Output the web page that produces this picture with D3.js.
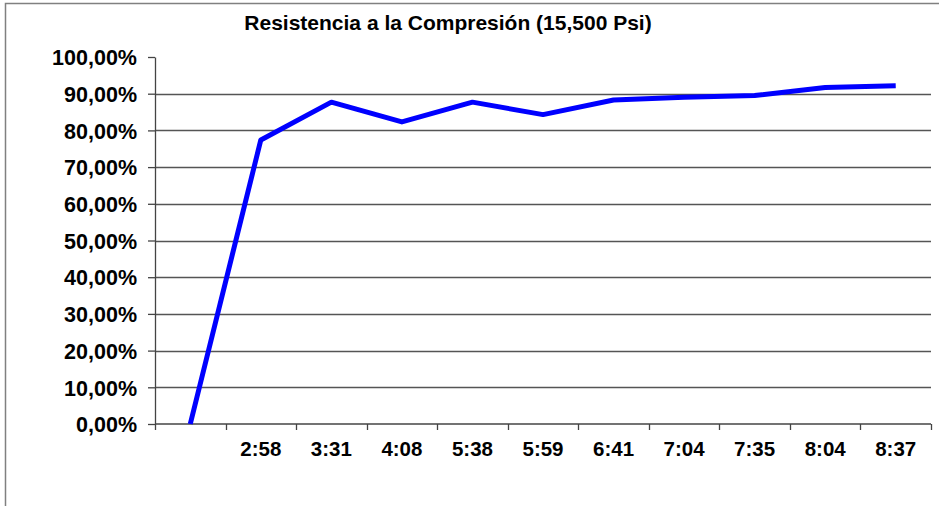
<!DOCTYPE html>
<html>
<head>
<meta charset="utf-8">
<title>Resistencia a la Compresión</title>
<style type="text/css">
	body { margin: 0; background: #fff; }
	text { font-family: "Liberation Sans", Arial, sans-serif; font-weight: bold; fill: #000; }
	.grid line { stroke: #555; stroke-width: 1.3px; }
	.yscale path, .yscale line, .xscale path, .xscale line { stroke: #444; stroke-width: 1.3px; }
	.line { fill: none; stroke: #0000ff; stroke-width: 5px; stroke-linejoin: round; }
</style>
</head>
<body>
<script src="https://d3js.org/d3.v7.min.js"></script>
<script>

// data
var categories = ["", "2:58", "3:31", "4:08", "5:38", "5:59", "6:41", "7:04", "7:35", "8:04", "8:37"];
var values = [0, 77.4, 87.7, 82.3, 87.7, 84.3, 88.3, 89.0, 89.5, 91.7, 92.2];
var yTicks = [0, 10, 20, 30, 40, 50, 60, 70, 80, 90, 100];
var title = "Resistencia a la Compresión (15,500 Psi)";

var W = 939, H = 506;
var margin = {top: 57, right: 8, bottom: 82, left: 155},
	width  = 931 - margin.left,
	height = 424 - margin.top;

var svg = d3.select("body")
	.append("svg")
	.attr("width", W)
	.attr("height", H);

// outer frame (only left and top edges show)
svg.append("rect")
	.attr("x", 5.5).attr("y", 3.5)
	.attr("width", W + 20).attr("height", H + 20)
	.attr("fill", "none")
	.attr("stroke", "#808080")
	.attr("stroke-width", 1.5);

var chart = svg.append("g")
	.attr("transform", "translate(" + margin.left + "," + margin.top + ")");

var xScale = d3.scaleBand()
	.domain(categories.map(function(d, i){ return i; }))
	.range([0, width]);

var yScale = d3.scaleLinear()
	.domain([0, 100])
	.range([height, 0]);

// gridlines
chart.append("g")
	.attr("class", "grid")
	.selectAll("line")
	.data(yTicks.filter(function(d){ return d > 0 && d < 100; }))
	.enter()
	.append("line")
	.attr("x1", 0)
	.attr("x2", width)
	.attr("y1", function(d){ return Math.round(yScale(d)) + 0.5; })
	.attr("y2", function(d){ return Math.round(yScale(d)) + 0.5; });

// y axis
var yAxis = chart.append("g")
	.attr("class", "yscale")
	.call(d3.axisLeft(yScale)
		.tickValues(yTicks)
		.tickSize(7)
		.tickPadding(11)
		.tickSizeOuter(0)
		.tickFormat(function(d){ return d3.format(".2f")(d).replace(".", ",") + "%"; }));
yAxis.selectAll("text").style("font-size", "21.5px").attr("dy", "0.36em");

// x axis: ticks between categories, labels centred in each band
var xAxis = chart.append("g")
	.attr("class", "xscale")
	.attr("transform", "translate(0," + height + ")");

xAxis.append("line")
	.attr("x1", 0).attr("x2", width)
	.attr("y1", 0).attr("y2", 0);

xAxis.selectAll(".tick")
	.data(d3.range(categories.length + 1))
	.enter()
	.append("line")
	.attr("class", "tick")
	.attr("x1", function(d){ return Math.round(d * xScale.step()) + 0.5; })
	.attr("x2", function(d){ return Math.round(d * xScale.step()) + 0.5; })
	.attr("y1", 0)
	.attr("y2", 6);

xAxis.selectAll(".lbl")
	.data(categories)
	.enter()
	.append("text")
	.attr("class", "lbl")
	.attr("x", function(d, i){ return xScale(i) + xScale.bandwidth() / 2; })
	.attr("y", 32)
	.attr("text-anchor", "middle")
	.style("font-size", "20.5px")
	.text(function(d){ return d; });

// series line
var line = d3.line()
	.x(function(d, i){ return xScale(i) + xScale.bandwidth() / 2; })
	.y(function(d){ return yScale(d); });

chart.append("path")
	.datum(values)
	.attr("class", "line")
	.attr("d", line);

// title
svg.append("text")
	.attr("x", 448)
	.attr("y", 30)
	.attr("text-anchor", "middle")
	.style("font-size", "21px")
	.text(title);

</script>
</body>
</html>
